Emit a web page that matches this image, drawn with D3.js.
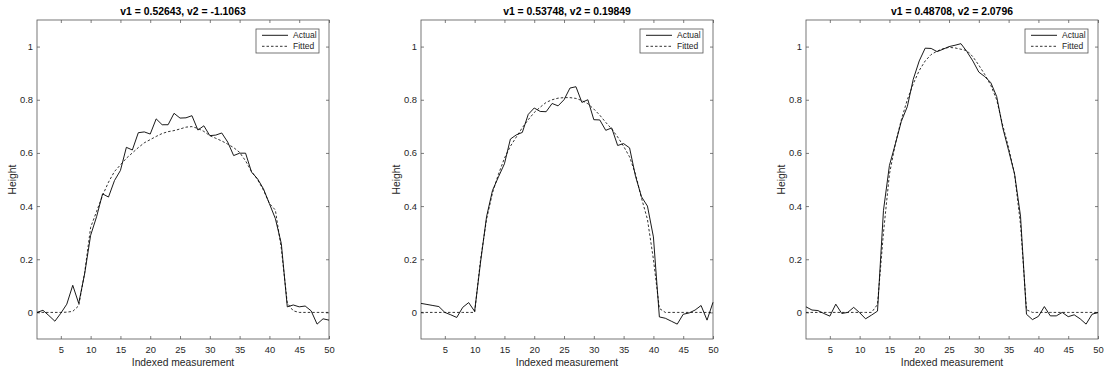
<!DOCTYPE html>
<html>
<head>
<meta charset="utf-8">
<script src="https://cdn.jsdelivr.net/npm/d3@7"></script>
<style>
    body { margin: 0; background: #fff; }
    svg { display: block; font-family: "Liberation Sans", Arial, sans-serif; }
</style>
</head>
<body>
<svg id="vis-container" width="1104" height="373"></svg>
<script>
var titles = ['v1 = 0.52643, v2 = -1.1063', 'v1 = 0.53748, v2 = 0.19849', 'v1 = 0.48708, v2 = 2.0796'];
var xTicks = [5, 10, 15, 20, 25, 30, 35, 40, 45, 50];
var yTicks = [0, 0.2, 0.4, 0.6, 0.8, 1];
var legendLabels = ['Actual', 'Fitted'];

var actual1 = [0.0, 0.008, -0.012, -0.033, -0.003, 0.031, 0.102, 0.034, 0.146, 0.29,
    0.36, 0.446, 0.434, 0.496, 0.534, 0.621, 0.611, 0.676, 0.679, 0.671,
    0.728, 0.706, 0.706, 0.749, 0.731, 0.732, 0.74, 0.686, 0.702, 0.665,
    0.667, 0.675, 0.641, 0.59, 0.599, 0.599, 0.528, 0.503, 0.465, 0.409,
    0.353, 0.259, 0.021, 0.028, 0.021, 0.024, 0.006, -0.044, -0.024, -0.029];
var fitted1 = [0, 0, 0, 0, 0, 0.001, 0.004, 0.025, 0.15, 0.32,
    0.38, 0.44, 0.49, 0.53, 0.555, 0.58, 0.6, 0.62, 0.638, 0.65,
    0.662, 0.673, 0.68, 0.684, 0.69, 0.697, 0.699, 0.692, 0.681, 0.665,
    0.655, 0.645, 0.633, 0.62, 0.602, 0.57, 0.53, 0.5, 0.46, 0.41,
    0.385, 0.24, 0.035, 0.006, 0, 0, 0, 0, 0, 0];

var actual2 = [0.034, 0.03, 0.026, 0.022, 0.0, -0.009, -0.019, 0.019, 0.037, 0.004,
    0.19, 0.36, 0.459, 0.51, 0.559, 0.652, 0.668, 0.677, 0.745, 0.769,
    0.756, 0.755, 0.786, 0.777, 0.8, 0.844, 0.849, 0.79, 0.8, 0.725,
    0.724, 0.685, 0.694, 0.628, 0.635, 0.619, 0.512, 0.435, 0.4, 0.284,
    -0.017, -0.022, -0.033, -0.044, -0.007, -0.002, 0.009, 0.026, -0.029, 0.038];
var fitted2 = [0, 0, 0, 0, 0, 0, 0, 0, 0, 0,
    0.2, 0.35, 0.45, 0.52, 0.58, 0.625, 0.66, 0.695, 0.725, 0.752,
    0.772, 0.79, 0.8, 0.806, 0.808, 0.808, 0.805, 0.797, 0.785, 0.765,
    0.742, 0.715, 0.69, 0.66, 0.625, 0.585, 0.52, 0.43, 0.35, 0.2,
    0.015, 0, 0, 0, 0, 0, 0, 0, 0, 0];

var actual3 = [0.021, 0.009, 0.007, -0.004, -0.014, 0.031, -0.004, 0.0, 0.019, -0.001,
    -0.024, -0.01, 0.005, 0.384, 0.553, 0.634, 0.719, 0.774, 0.877, 0.946,
    0.994, 0.993, 0.981, 0.99, 1.0, 1.005, 1.011, 0.981, 0.946, 0.904,
    0.887, 0.865, 0.812, 0.696, 0.609, 0.521, 0.362, -0.007, -0.027, -0.015,
    0.022, -0.013, -0.013, 0.0, -0.016, -0.009, -0.024, -0.044, -0.007, 0.0];
var fitted3 = [0, 0, 0, 0, 0, 0, 0, 0, 0, 0,
    0, 0, 0.03, 0.3, 0.52, 0.635, 0.725, 0.8, 0.86, 0.91,
    0.946, 0.97, 0.983, 0.992, 0.997, 0.995, 0.99, 0.985, 0.962, 0.93,
    0.895, 0.855, 0.8, 0.705, 0.62, 0.52, 0.33, 0.01, 0, 0,
    0, 0, 0, 0, 0, 0, 0, 0, 0, 0];

var actualSeries = [actual1, actual2, actual3];
var fittedSeries = [fitted1, fitted2, fitted3];

var panelLefts = [37, 421, 806];
var plotTop = 20, width = 292, height = 319;
var axisColor = '#262626';

var xScale = d3.scaleLinear().domain([1, 50]).range([0, width]);
var yScale = d3.scaleLinear().domain([-0.1, 1.1]).range([height, 0]);
var fmt = d3.format('~g');

var line = d3.line()
    .x(function (d, i) { return xScale(i + 1); })
    .y(function (d) { return yScale(d); });

var svg = d3.select('#vis-container');

titles.forEach(function (title, p) {
    var g = svg.append('g')
        .attr('transform', 'translate(' + panelLefts[p] + ',' + plotTop + ')');

    g.append('rect')
        .attr('width', width).attr('height', height)
        .attr('fill', '#fff');

    // axes, ticks pointing inwards on all four sides
    var bottom = g.append('g').attr('transform', 'translate(0,' + height + ')')
        .call(d3.axisBottom(xScale).tickValues(xTicks).tickSizeInner(-3).tickSizeOuter(0).tickPadding(7));
    var topAx = g.append('g')
        .call(d3.axisTop(xScale).tickValues(xTicks).tickSizeInner(-3).tickSizeOuter(0).tickFormat(''));
    var left = g.append('g')
        .call(d3.axisLeft(yScale).tickValues(yTicks).tickSizeInner(-3).tickSizeOuter(0).tickPadding(4).tickFormat(fmt));
    var right = g.append('g').attr('transform', 'translate(' + width + ',0)')
        .call(d3.axisRight(yScale).tickValues(yTicks).tickSizeInner(-3).tickSizeOuter(0).tickFormat(''));

    [bottom, topAx, left, right].forEach(function (ax) {
        ax.select('.domain').remove();
        ax.attr('font-family', null);
        ax.selectAll('line').attr('stroke', axisColor).attr('stroke-width', 0.6);
        ax.selectAll('text').attr('fill', axisColor).style('font-size', '9.4px');
    });

    g.append('rect')
        .attr('width', width).attr('height', height)
        .attr('fill', 'none')
        .attr('stroke', '#555')
        .attr('stroke-width', 0.8);

    g.append('path')
        .datum(fittedSeries[p])
        .attr('d', line)
        .attr('fill', 'none')
        .attr('stroke', '#000')
        .attr('stroke-width', 0.8)
        .attr('stroke-dasharray', '2.5,2');

    g.append('path')
        .datum(actualSeries[p])
        .attr('d', line)
        .attr('fill', 'none')
        .attr('stroke', '#000')
        .attr('stroke-width', 0.9);

    g.append('text')
        .attr('x', width / 2).attr('y', -9)
        .attr('text-anchor', 'middle')
        .attr('dominant-baseline', 'central')
        .style('font-size', '10.4px')
        .style('font-weight', 'bold')
        .attr('fill', '#000')
        .text(title);

    g.append('text')
        .attr('x', width / 2).attr('y', height + 23)
        .attr('text-anchor', 'middle')
        .attr('dominant-baseline', 'central')
        .style('font-size', '10.3px')
        .attr('fill', axisColor)
        .text('Indexed measurement');

    g.append('text')
        .attr('transform', 'translate(-24.5,' + (height / 2) + ') rotate(-90)')
        .attr('text-anchor', 'middle')
        .attr('dominant-baseline', 'central')
        .style('font-size', '10.3px')
        .attr('fill', axisColor)
        .text('Height');

    // legend
    var lg = g.append('g').attr('transform', 'translate(' + (width - 73) + ',9)');
    lg.append('rect')
        .attr('width', 63).attr('height', 24)
        .attr('fill', '#fff')
        .attr('stroke', '#555')
        .attr('stroke-width', 0.8);
    legendLabels.forEach(function (lab, i) {
        var yy = 6.3 + i * 11;
        lg.append('line')
            .attr('x1', 6).attr('x2', 32)
            .attr('y1', yy).attr('y2', yy)
            .attr('stroke', '#000')
            .attr('stroke-width', i === 0 ? 0.9 : 0.8)
            .attr('stroke-dasharray', i === 0 ? null : '2.5,2');
        lg.append('text')
            .attr('x', 37).attr('y', yy)
            .attr('dominant-baseline', 'central')
            .style('font-size', '8.5px')
            .attr('fill', axisColor)
            .text(lab);
    });
});
</script>
</body>
</html>
